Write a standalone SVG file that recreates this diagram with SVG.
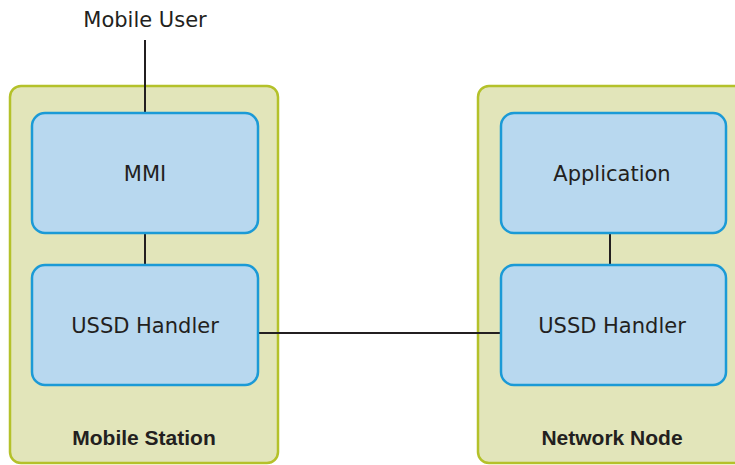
<svg xmlns="http://www.w3.org/2000/svg" width="735" height="465" viewBox="0 0 735 465">
<style>
.cont{fill:#e2e5ba;stroke:#b4c12a;stroke-width:2.5}
.box{fill:#b8d8ef;stroke:#1b9ad6;stroke-width:2.5}
.lbl{font-family:"DejaVu Sans","Liberation Sans",sans-serif;font-size:21px;fill:#231f20;text-anchor:middle}
.ttl{font-family:"Liberation Sans",Arial,sans-serif;font-size:21px;font-weight:bold;fill:#231f20;text-anchor:middle}
.ln{stroke:#231f20;stroke-width:2;fill:none}
</style>
<rect width="735" height="465" fill="#ffffff"/>
<g id="mobile-station">
<rect class="cont" x="10" y="86" width="268" height="377" rx="11"/>
<text class="ttl" x="144" y="445">Mobile Station</text>
</g>
<g id="network-node">
<rect class="cont" x="478" y="86" width="268" height="377" rx="11"/>
<text class="ttl" x="612" y="445">Network Node</text>
</g>
<g id="connectors">
<line class="ln" x1="145" y1="40" x2="145" y2="113"/>
<line class="ln" x1="145" y1="233" x2="145" y2="265"/>
<line class="ln" x1="610" y1="233" x2="610" y2="265"/>
<line class="ln" x1="258" y1="333" x2="501" y2="333"/>
</g>
<g id="mobile-user">
<text class="lbl" x="145" y="27">Mobile User</text>
</g>
<g id="mmi">
<rect class="box" x="32" y="113" width="226" height="120" rx="13"/>
<text class="lbl" x="145" y="181">MMI</text>
</g>
<g id="ussd-ms">
<rect class="box" x="32" y="265" width="226" height="120" rx="13"/>
<text class="lbl" x="145" y="333">USSD Handler</text>
</g>
<g id="application">
<rect class="box" x="501" y="113" width="225" height="120" rx="13"/>
<text class="lbl" x="612" y="181">Application</text>
</g>
<g id="ussd-nn">
<rect class="box" x="501" y="265" width="225" height="120" rx="13"/>
<text class="lbl" x="612" y="333">USSD Handler</text>
</g>
</svg>
